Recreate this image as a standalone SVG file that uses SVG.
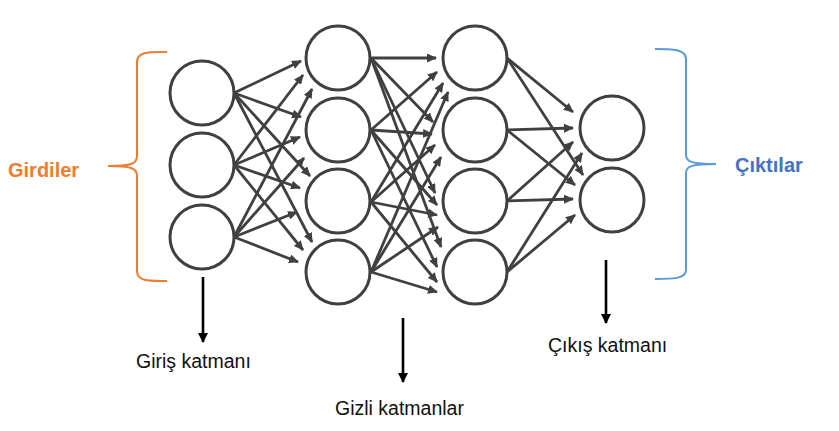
<svg xmlns="http://www.w3.org/2000/svg" width="839" height="431" viewBox="0 0 839 431">
<style>
.node{fill:#fff;stroke:#404040;stroke-width:3}
.edge{stroke:#404040;stroke-width:2.8;fill:none;marker-end:url(#ah)}
.down{stroke:#000;stroke-width:2.6;fill:none;marker-end:url(#ahb)}
.lbl{font-family:"Liberation Sans",Arial,sans-serif;font-size:19.5px;fill:#111}
.big{font-family:"Liberation Sans",Arial,sans-serif;font-size:20px;font-weight:bold}
</style>
<defs>
<marker id="ah" markerUnits="userSpaceOnUse" markerWidth="10" markerHeight="9" refX="9" refY="4.5" orient="auto"><path d="M0,0 L10,4.5 L0,9 z" fill="#404040"/></marker>
<marker id="ahb" markerUnits="userSpaceOnUse" markerWidth="11" markerHeight="10" refX="9" refY="5" orient="auto"><path d="M0,0 L10,5 L0,10 z" fill="#000"/></marker>
</defs>
<rect width="839" height="431" fill="#fff"/>
<g id="connectors">
<line class="edge" x1="234" y1="93" x2="301" y2="61"/>
<line class="edge" x1="234" y1="165" x2="303" y2="75"/>
<line class="edge" x1="234" y1="237" x2="312" y2="89"/>
<line class="edge" x1="234" y1="93" x2="301" y2="117"/>
<line class="edge" x1="234" y1="165" x2="300" y2="137"/>
<line class="edge" x1="234" y1="237" x2="304" y2="158"/>
<line class="edge" x1="234" y1="93" x2="310" y2="176"/>
<line class="edge" x1="234" y1="165" x2="300" y2="188"/>
<line class="edge" x1="234" y1="237" x2="297" y2="212"/>
<line class="edge" x1="234" y1="93" x2="312" y2="242"/>
<line class="edge" x1="234" y1="165" x2="303" y2="250"/>
<line class="edge" x1="234" y1="237" x2="298" y2="262"/>

<line class="edge" x1="371" y1="58" x2="436" y2="58"/>
<line class="edge" x1="371" y1="130" x2="437" y2="72"/>
<line class="edge" x1="371" y1="202" x2="443" y2="83"/>
<line class="edge" x1="371" y1="272" x2="448" y2="92"/>
<line class="edge" x1="371" y1="58" x2="433" y2="122"/>
<line class="edge" x1="371" y1="130" x2="432" y2="134"/>
<line class="edge" x1="371" y1="202" x2="435" y2="145"/>
<line class="edge" x1="371" y1="272" x2="441" y2="157"/>
<line class="edge" x1="371" y1="58" x2="435" y2="193"/>
<line class="edge" x1="371" y1="130" x2="437" y2="205"/>
<line class="edge" x1="371" y1="202" x2="437" y2="215"/>
<line class="edge" x1="371" y1="272" x2="438" y2="227"/>
<line class="edge" x1="371" y1="58" x2="441" y2="247"/>
<line class="edge" x1="371" y1="130" x2="437" y2="267"/>
<line class="edge" x1="371" y1="202" x2="437" y2="282"/>
<line class="edge" x1="371" y1="272" x2="437" y2="292"/>

<line class="edge" x1="507" y1="58" x2="573" y2="112"/>
<line class="edge" x1="507" y1="58" x2="583" y2="175"/>
<line class="edge" x1="507" y1="130" x2="573" y2="128"/>
<line class="edge" x1="507" y1="130" x2="575" y2="185"/>
<line class="edge" x1="507" y1="201" x2="573" y2="142"/>
<line class="edge" x1="507" y1="201" x2="573" y2="199"/>
<line class="edge" x1="507" y1="272" x2="582" y2="153"/>
<line class="edge" x1="507" y1="272" x2="575" y2="215"/>

<line class="down" x1="203" y1="277" x2="203" y2="342"/>
<line class="down" x1="403" y1="318" x2="403" y2="382"/>
<line class="down" x1="606" y1="260" x2="606" y2="323"/>
</g>
<g id="in1"><circle class="node" cx="202" cy="93" r="32"/></g>
<g id="in2"><circle class="node" cx="202" cy="165" r="32"/></g>
<g id="in3"><circle class="node" cx="202" cy="237" r="32"/></g>
<g id="h1a"><circle class="node" cx="338" cy="58" r="32"/></g>
<g id="h1b"><circle class="node" cx="338" cy="130" r="32"/></g>
<g id="h1c"><circle class="node" cx="338" cy="201" r="32"/></g>
<g id="h1d"><circle class="node" cx="338" cy="272" r="32"/></g>
<g id="h2a"><circle class="node" cx="475" cy="58" r="32"/></g>
<g id="h2b"><circle class="node" cx="475" cy="130" r="32"/></g>
<g id="h2c"><circle class="node" cx="475" cy="201" r="32"/></g>
<g id="h2d"><circle class="node" cx="475" cy="272" r="32"/></g>
<g id="out1"><circle class="node" cx="612" cy="128" r="32"/></g>
<g id="out2"><circle class="node" cx="612" cy="200" r="32"/></g>
<g id="inputs-brace">
<path d="M167,52 C150,52 137,51 137,62 L137,156 C137,164 131,166 108,166 C131,166 137,168 137,176 L137,271 C137,282 150,281 167,281" fill="none" stroke="#ED7D31" stroke-width="2"/>
<text class="big" x="8" y="177" fill="#ED7D31">Girdiler</text>
</g>
<g id="outputs-brace">
<path d="M655,49 C672,49 686,49 686,59 L686,155 C686,162 692,164 716,164 C692,164 686,166 686,173 L686,270 C686,279 672,279 655,279" fill="none" stroke="#5B9BD5" stroke-width="2"/>
<text class="big" x="735" y="172" fill="#4472C4">Çıktılar</text>
</g>
<g id="labels">
<text class="lbl" x="136" y="368">Giriş katmanı</text>
<text class="lbl" x="335" y="415">Gizli katmanlar</text>
<text class="lbl" x="548" y="352">Çıkış katmanı</text>
</g>
</svg>
